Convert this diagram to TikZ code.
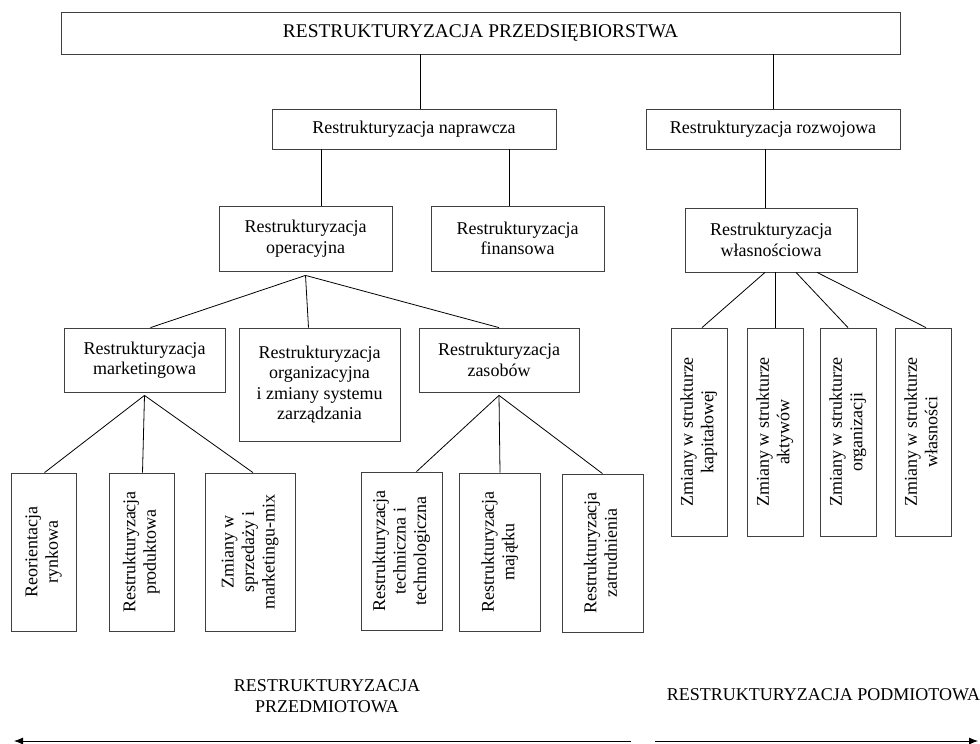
\documentclass[tikz,border=0pt]{standalone}
\usepackage{fontspec}
\setmainfont{Liberation Serif}
\usepackage{graphicx}
\usetikzlibrary{arrows.meta}
\newcommand{\vtext}[1]{\rotatebox{90}{\begin{tabular}{@{}c@{}}#1\end{tabular}}}

\begin{document}
\begin{tikzpicture}
[x=1pt,y=-1pt%
,line width=0.8pt%
,every node/.style={font=\fontsize{18}{20.5}\selectfont,%
	align=center,%
	inner sep=0pt}%
,box/.style={draw=black!75,%
	rectangle}%
,vbox/.style={box,%
	minimum height=158pt}%
,zbox/.style={box,%
	minimum width=56pt,%
	minimum height=208pt}%
,arrow/.style={-{Latex[length=9pt,width=7pt]}}]
\useasboundingbox (0,0) rectangle (980,744);
% top levels
\node[box,minimum width=839pt,minimum height=42pt,font=\fontsize{19.4}{22}\selectfont] (top) at (480.5,33) {RESTRUKTURYZACJA PRZEDSIĘBIORSTWA};
\node[box,minimum width=284pt,minimum height=40pt] (napr) at (414,129) {Restrukturyzacja naprawcza};
\node[box,minimum width=254pt,minimum height=40pt] (rozw) at (773,129) {Restrukturyzacja rozwojowa};
\node[box,minimum width=173pt,minimum height=65pt] (oper) at (305.5,238.5) {Restrukturyzacja\\operacyjna};
\node[box,minimum width=173pt,minimum height=65pt] (fin) at (517.5,238.5) {Restrukturyzacja\\finansowa};
\node[box,minimum width=172pt,minimum height=64pt] (wlas) at (771,240) {Restrukturyzacja\\własnościowa};
\node[box,minimum width=161pt,minimum height=64pt] (mark) at (144.5,360) {Restrukturyzacja\\marketingowa};
\node[box,minimum width=161pt,minimum height=113pt] (org) at (319.5,384.5) {Restrukturyzacja\\organizacyjna\\i zmiany systemu\\zarządzania};
\node[box,minimum width=160pt,minimum height=64pt] (zas) at (499,360) {Restrukturyzacja\\zasobów};
% vertical boxes
\node[vbox,minimum width=65pt] (reor) at (43.5,552) {\vtext{Reorientacja\\rynkowa}};
\node[vbox,minimum width=65pt] (prod) at (141.5,552) {\vtext{Restrukturyzacja\\produktowa}};
\node[vbox,minimum width=90pt] (sprz) at (250,552) {\vtext{Zmiany w\\sprzedaży i\\marketingu-mix}};
\node[vbox,minimum width=81pt] (tech) at (401.5,551) {\vtext{Restrukturyzacja\\techniczna i\\technologiczna}};
\node[vbox,minimum width=81pt] (maj) at (500,552) {\vtext{Restrukturyzacja\\majątku}};
\node[vbox,minimum width=81pt] (zatr) at (602.5,553) {\vtext{Restrukturyzacja\\zatrudnienia}};
\node[zbox] (kap) at (699,432) {\vtext{Zmiany w strukturze\\kapitałowej}};
\node[zbox] (akt) at (775,432) {\vtext{Zmiany w strukturze\\aktywów}};
\node[zbox] (orgz) at (848,432) {\vtext{Zmiany w strukturze\\organizacji}};
\node[zbox] (wlasn) at (923,432) {\vtext{Zmiany w strukturze\\własności}};
% connectors
\draw ([xshift=6pt]napr.north) -- ([xshift=6pt]napr.north |- top.south);
\draw (rozw.north) -- (rozw.north |- top.south);
\draw ([xshift=16pt]oper.north) -- ([xshift=16pt]oper.north |- napr.south);
\draw ([xshift=-8pt]fin.north) -- ([xshift=-8pt]fin.north |- napr.south);
\draw ([xshift=-6pt]wlas.north) -- ([xshift=-6pt]wlas.north |- rozw.south);
\draw ([yshift=-4pt]oper.south) -- ([xshift=6pt]mark.north);
\draw ([yshift=-4pt]oper.south) -- ([xshift=-11pt]org.north);
\draw ([yshift=-4pt]oper.south) -- (zas.north);
\draw ([yshift=-3pt]mark.south) -- ([xshift=1pt]reor.north);
\draw ([yshift=-3pt]mark.south) -- ([xshift=1pt]prod.north);
\draw ([yshift=-3pt]mark.south) -- ([xshift=3pt]sprz.north);
\draw ([yshift=-3pt]zas.south) -- ([xshift=15pt]tech.north);
\draw ([yshift=-3pt]zas.south) -- (maj.north);
\draw ([yshift=-3pt]zas.south) -- (zatr.north);
\draw ([xshift=-6pt]wlas.south) -- ([xshift=3pt]kap.north);
\draw ([xshift=4pt]wlas.south) -- (akt.north);
\draw ([xshift=25pt]wlas.south) -- (orgz.north);
\draw ([xshift=46pt]wlas.south) -- ([xshift=3pt]wlasn.north);
% bottom labels and arrows
\node (przedm) at (327,696) {RESTRUKTURYZACJA\\PRZEDMIOTOWA};
\node (podm) at (823.5,695) {RESTRUKTURYZACJA PODMIOTOWA};
\coordinate (la) at (631,741);
\coordinate (lb) at (14,741);
\coordinate (ra) at (655,741);
\coordinate (rb) at (978,741);
\draw[arrow] (la) -- (lb);
\draw[arrow] (ra) -- (rb);
\end{tikzpicture}
\end{document}
